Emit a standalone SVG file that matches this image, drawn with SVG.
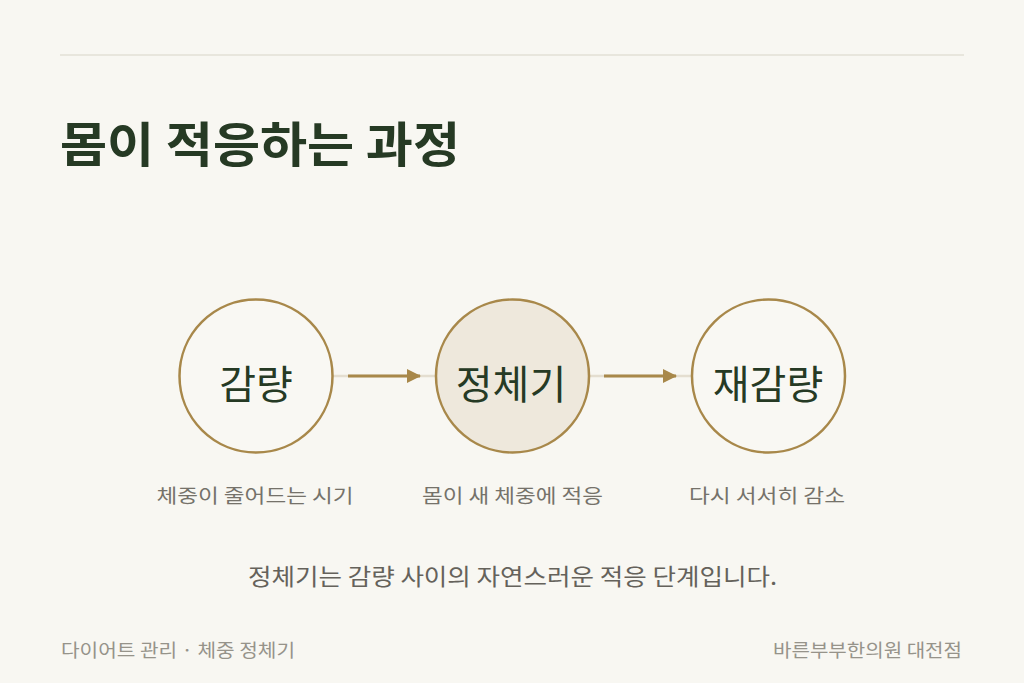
<svg xmlns="http://www.w3.org/2000/svg" width="1024" height="683" viewBox="0 0 1024 683">
  <defs>
    <style>
      .kr { font-family: "Noto Sans CJK KR", "Noto Sans", sans-serif; }
      .title { font-size: 48px; font-weight: 700; fill: #263a24; }
      .node-circle { stroke: #a8884a; stroke-width: 2.5; }
      .node-label { font-size: 40px; font-weight: 400; fill: #263a24; text-anchor: middle; }
      .sub { font-size: 19px; fill: #75726a; text-anchor: middle; }
      .note { font-size: 23px; fill: #65625b; text-anchor: middle; }
      .foot { font-size: 18px; fill: #96938a; }
      .track { stroke: #e4ded0; stroke-width: 2.5; fill: none; }
      .arrow { stroke: #a8884a; stroke-width: 2.8; fill: none; }
    </style>
    <marker id="head" viewBox="0 0 14 14" refX="13" refY="7" markerWidth="14" markerHeight="14" markerUnits="userSpaceOnUse" orient="auto">
      <path d="M0,0 L14,7 L0,14 Z" fill="#a8884a"/>
    </marker>
  </defs>

  <rect x="0" y="0" width="1024" height="683" fill="#f8f7f2"/>
  <line x1="60" y1="55" x2="964" y2="55" stroke="#e3e0d6" stroke-width="1.5"/>

  <text class="kr title" x="60" y="162" textLength="400" lengthAdjust="spacingAndGlyphs">몸이 적응하는 과정</text>

  <g id="connectors">
    <line class="track" x1="333" y1="376" x2="436" y2="376"/>
    <line class="track" x1="589" y1="376" x2="692" y2="376"/>
    <line class="arrow" x1="348" y1="376" x2="420" y2="376" marker-end="url(#head)"/>
    <line class="arrow" x1="604" y1="376" x2="676" y2="376" marker-end="url(#head)"/>
  </g>

  <g id="node-1">
    <circle class="node-circle" cx="256" cy="376" r="76.5" fill="#f9f8f3"/>
    <text class="kr node-label" x="256" y="399">감량</text>
    <text class="kr sub" x="255" y="503" textLength="197" lengthAdjust="spacingAndGlyphs">체중이 줄어드는 시기</text>
  </g>

  <g id="node-2">
    <circle class="node-circle" cx="512.5" cy="376" r="76.5" fill="#eee8dc"/>
    <text class="kr node-label" x="511" y="399">정체기</text>
    <text class="kr sub" x="512.5" y="503" textLength="181" lengthAdjust="spacingAndGlyphs">몸이 새 체중에 적응</text>
  </g>

  <g id="node-3">
    <circle class="node-circle" cx="768.5" cy="376" r="76.5" fill="#f9f8f3"/>
    <text class="kr node-label" x="768" y="399">재감량</text>
    <text class="kr sub" x="767" y="503" textLength="156" lengthAdjust="spacingAndGlyphs">다시 서서히 감소</text>
  </g>

  <text class="kr note" x="512.5" y="585" textLength="529" lengthAdjust="spacingAndGlyphs">정체기는 감량 사이의 자연스러운 적응 단계입니다.</text>

  <text class="kr foot" x="61" y="657" textLength="234" lengthAdjust="spacingAndGlyphs">다이어트 관리 · 체중 정체기</text>
  <text class="kr foot" x="962" y="657" text-anchor="end" textLength="189" lengthAdjust="spacingAndGlyphs">바른부부한의원 대전점</text>
</svg>
